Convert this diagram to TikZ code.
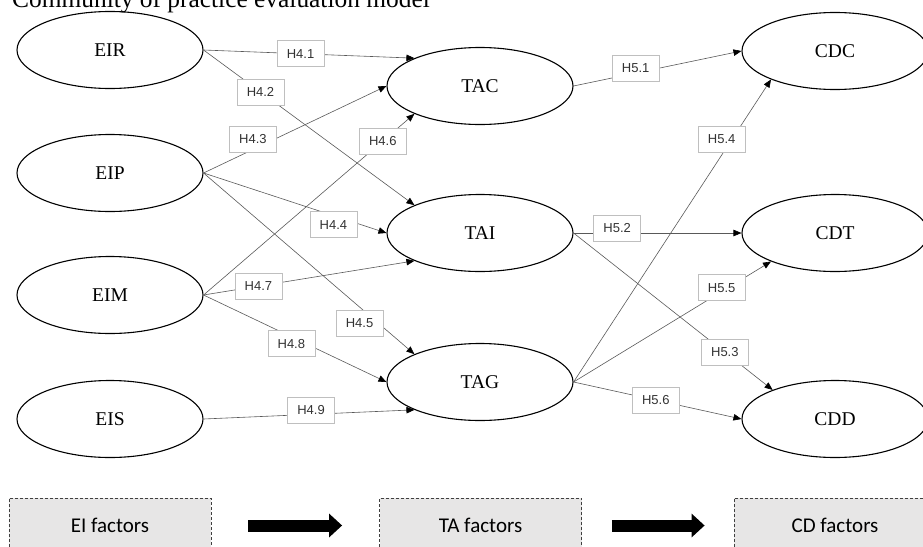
\documentclass[tikz,border=0pt]{standalone}
\usepackage{fontspec}
\setmainfont{Liberation Serif}
\newfontfamily\hypfont{Liberation Sans}
\newfontfamily\factorfont{Carlito}
\usetikzlibrary{arrows.meta,shapes.geometric}
\definecolor{edgegray}{HTML}{595959}
\definecolor{hypborder}{HTML}{BFBFBF}
\definecolor{factorfill}{HTML}{E7E6E6}
\definecolor{factordash}{HTML}{404040}

\begin{document}
\begin{tikzpicture}
  [x=1pt,y=-1pt,
   construct/.style={ellipse,draw=black,line width=1.1pt,minimum width=186pt,minimum height=77pt,inner sep=0pt,font=\fontsize{19.5}{22}\selectfont},
   hyp/.style={rectangle,draw=hypborder,fill=white,line width=0.6pt,minimum width=47pt,minimum height=26pt,inner sep=0pt,text=black!80,font=\hypfont\fontsize{13}{15}\selectfont},
   hpath/.style={draw=edgegray,line width=0.6pt,-{Triangle[length=8pt,width=6.5pt,color=black]}},
   factor/.style={rectangle,draw=factordash,fill=factorfill,dash pattern=on 3pt off 2pt,line width=0.8pt,minimum width=202pt,minimum height=55pt,font=\factorfont\fontsize{21}{24}\selectfont},
   bigarrow/.style={line width=12pt,-{Triangle[length=13pt,width=23pt]}}]
  \useasboundingbox (0,0) rectangle (923,546);

  \node[anchor=base west,inner sep=0pt,font=\fontsize{25.4}{30}\selectfont] (title) at (12,7) {Community of practice evaluation model};

  \node[construct] (EIR) at (110,50) {EIR};
  \node[construct] (EIP) at (110,173) {EIP};
  \node[construct] (EIM) at (110,295) {EIM};
  \node[construct] (EIS) at (110,419) {EIS};

  \node[construct] (TAC) at (480,86) {TAC};
  \node[construct] (TAI) at (480,233) {TAI};
  \node[construct] (TAG) at (480,382) {TAG};

  \node[construct] (CDC) at (835,51) {CDC};
  \node[construct] (CDT) at (835,233) {CDT};
  \node[construct] (CDD) at (835,419) {CDD};

  \foreach \from/\to/\p/\sh/\lab in {EIR.east/TAC.157/0.46/0/H4.1, EIR.east/TAI.157/0.27/0/H4.2,
      EIP.east/TAC.west/0.27/10/H4.3, EIP.east/TAI.west/0.71/-9/H4.4, EIP.east/TAG.157/0.74/-16/H4.5,
      EIM.east/TAC.203/0.85/0/H4.6, EIM.east/TAI.203/0.26/0/H4.7, EIM.east/TAG.west/0.48/-7/H4.8,
      EIS.east/TAG.203/0.51/4/H4.9,
      TAC.east/CDC.west/0.37/5/H5.1, TAI.east/CDT.west/0.26/5/H5.2, TAI.east/CDD.155/0.76/0/H5.3,
      TAG.east/CDC.204/0.75/16/H5.4, TAG.east/CDT.204/0.75/4/H5.5, TAG.east/CDD.west/0.49/0/H5.6}
    \draw[hpath] (\from) -- node[hyp,pos=\p,yshift=\sh pt] {\lab} (\to);

  \node[factor] (EIf) at (110,525.5) {EI factors};
  \node[factor] (TAf) at (480.5,525.5) {TA factors};
  \node[factor] (CDf) at (835,525.5) {CD factors};

  \draw[bigarrow,shorten <=37pt,shorten >=37pt] (EIf) -- (TAf);
  \draw[bigarrow,shorten <=30pt,shorten >=29pt] (TAf) -- (CDf);
\end{tikzpicture}
\end{document}
